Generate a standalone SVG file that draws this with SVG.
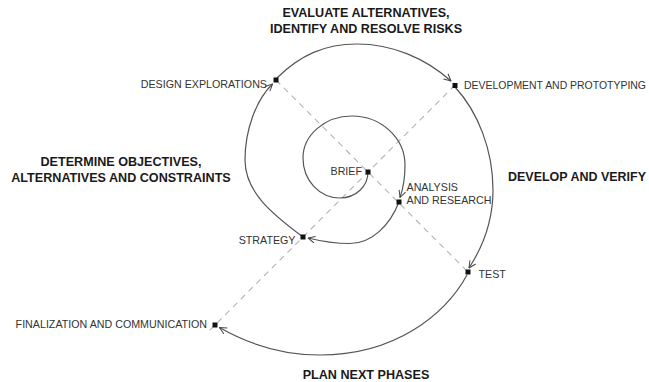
<svg xmlns="http://www.w3.org/2000/svg" width="649" height="382" viewBox="0 0 649 382">
<defs>
<style>
.lbl{font-family:"Liberation Sans",Arial,sans-serif;font-size:10.7px;fill:#333}
.hd{font-family:"Liberation Sans",Arial,sans-serif;font-size:12.6px;font-weight:bold;fill:#1a1a1a}
.sp{fill:none;stroke:#555;stroke-width:1.2;marker-end:url(#arr)}
.dash{fill:none;stroke:#b3b3b3;stroke-width:1.1;stroke-dasharray:6 5}
.dot{fill:#111}
</style>
<marker id="arr" viewBox="0 0 8 8" refX="7.5" refY="4" markerWidth="8" markerHeight="8" markerUnits="userSpaceOnUse" orient="auto">
<path d="M0.5,0.6 L7.5,4 L0.5,7.4" fill="none" stroke="#444" stroke-width="1"/>
</marker>
</defs>
<rect width="649" height="382" fill="#fff"/>
<g id="connectors">
<line class="dash" x1="276" y1="80" x2="468" y2="272"/>
<line class="dash" x1="455" y1="85" x2="209" y2="331"/>
<path class="sp" d="M368,172 C368,186 356,198 340,198 C320,198 303,181 303,158 C303,135 325,116 352,116 C381,116 405,138 405,165 C405,178 403,189 400,197.5"/>
<path class="sp" d="M399,202 C390,225 372,243.5 350,243.5 C334,243.5 320,241 308,238"/>
<path class="sp" d="M303,237 C272,214 245,192 245,160 C245,130 256,100 272.5,84"/>
<path class="sp" d="M277,78 C300,55 325,44 357,44 C392,44 425,58 451,81"/>
<path class="sp" d="M455,87 C478,112 493,150 493,190 C493,218 484,245 469,268"/>
<path class="sp" d="M467,275 C445,315 395,355 320,355 C285,355 250,345 219.5,327.5"/>
</g>
<g id="node-brief"><rect class="dot" x="365.5" y="169.5" width="5" height="5"/><text class="lbl" x="362" y="175" text-anchor="end">BRIEF</text></g>
<g id="node-analysis"><rect class="dot" x="396.5" y="199.5" width="5" height="5"/><text class="lbl" x="406.5" y="191">ANALYSIS</text><text class="lbl" x="406.5" y="204">AND RESEARCH</text></g>
<g id="node-strategy"><rect class="dot" x="300.5" y="234.5" width="5" height="5"/><text class="lbl" x="295.5" y="244" text-anchor="end">STRATEGY</text></g>
<g id="node-design"><rect class="dot" x="273.5" y="77.5" width="5" height="5"/><text class="lbl" x="267" y="87.5" text-anchor="end">DESIGN EXPLORATIONS</text></g>
<g id="node-development"><rect class="dot" x="452.5" y="83" width="5" height="5"/><text class="lbl" x="464" y="88.5" textLength="182" lengthAdjust="spacingAndGlyphs">DEVELOPMENT AND PROTOTYPING</text></g>
<g id="node-test"><rect class="dot" x="465.5" y="269.5" width="5" height="5"/><text class="lbl" x="478.5" y="277.5">TEST</text></g>
<g id="node-finalization"><rect class="dot" x="212.5" y="322.5" width="5" height="5"/><text class="lbl" x="207" y="328" text-anchor="end">FINALIZATION AND COMMUNICATION</text></g>
<g id="quadrant-labels">
<text class="hd" x="366" y="17" text-anchor="middle">EVALUATE ALTERNATIVES,</text>
<text class="hd" x="366" y="32.5" text-anchor="middle">IDENTIFY AND RESOLVE RISKS</text>
<text class="hd" x="121" y="166" text-anchor="middle">DETERMINE OBJECTIVES,</text>
<text class="hd" x="121" y="181.5" text-anchor="middle">ALTERNATIVES AND CONSTRAINTS</text>
<text class="hd" x="508" y="180.5" textLength="138" lengthAdjust="spacingAndGlyphs">DEVELOP AND VERIFY</text>
<text class="hd" x="366" y="378.5" text-anchor="middle">PLAN NEXT PHASES</text>
</g>
</svg>
